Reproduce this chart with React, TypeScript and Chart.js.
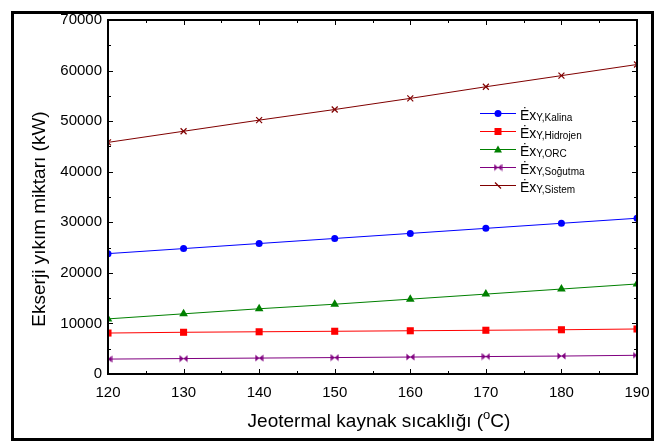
import React, { useEffect, useRef } from "react";
import { Chart, registerables } from "chart.js";

Chart.register(...registerables);

const temperatures = [120, 130, 140, 150, 160, 170, 180, 190];
const kalina = [23800, 24800, 25800, 26800, 27800, 28800, 29800, 30800];
const hidrojen = [8100, 8250, 8350, 8450, 8550, 8650, 8750, 8900];
const orc = [10900, 11900, 12900, 13800, 14800, 15800, 16800, 17800];
const sogutma = [2950, 3050, 3150, 3250, 3350, 3450, 3550, 3700];
const sistem = [45800, 48000, 50200, 52300, 54500, 56800, 59000, 61200];

const seriesNames = ["Kalina", "Hidrojen", "ORC", "Soğutma", "Sistem"];
const seriesColors = ["#0000FF", "#FF0000", "#008000", "#800080", "#800000"];

const xTitle = "Jeotermal kaynak sıcaklığı (";
const yTitle = "Ekserji yıkım miktarı (kW)";

const FONT = "'Liberation Sans', Arial, sans-serif";

function makeBowtie(color: string) {
  const c = document.createElement("canvas");
  c.width = 9;
  c.height = 8;
  const g = c.getContext("2d")!;
  g.fillStyle = color;
  g.beginPath();
  g.moveTo(0.5, 0.5);
  g.lineTo(4.5, 4);
  g.lineTo(0.5, 7.5);
  g.closePath();
  g.moveTo(8.5, 0.5);
  g.lineTo(4.5, 4);
  g.lineTo(8.5, 7.5);
  g.closePath();
  g.fill();
  return c;
}

const framePlugin = {
  id: "framePlugin",
  beforeDraw(chart: any) {
    const ctx = chart.ctx;
    ctx.save();
    ctx.fillStyle = "#fff";
    ctx.fillRect(0, 0, chart.width, chart.height);
    ctx.strokeStyle = "#000";
    ctx.lineWidth = 3;
    ctx.strokeRect(12.5, 12.5, 640, 427);
    ctx.restore();
  },
  afterDatasetsDraw(chart: any) {
    const ctx = chart.ctx;
    const a = chart.chartArea;
    const xs = chart.scales.x;
    const ys = chart.scales.y;
    ctx.save();
    ctx.strokeStyle = "#000";
    ctx.lineWidth = 1;
    // ticks inward
    ctx.beginPath();
    for (let v = 120; v <= 190; v += 5) {
      const px = Math.round(xs.getPixelForValue(v)) + 0.5;
      const len = v % 10 === 0 ? 5 : 3;
      ctx.moveTo(px, a.bottom);
      ctx.lineTo(px, a.bottom - len);
      ctx.moveTo(px, a.top);
      ctx.lineTo(px, a.top + len);
    }
    for (let v = 0; v <= 70000; v += 5000) {
      const py = Math.round(ys.getPixelForValue(v)) + 0.5;
      const len = v % 10000 === 0 ? 5 : 3;
      ctx.moveTo(a.left, py);
      ctx.lineTo(a.left + len, py);
      ctx.moveTo(a.right, py);
      ctx.lineTo(a.right - len, py);
    }
    ctx.stroke();
    ctx.lineWidth = 2;
    ctx.strokeRect(a.left, a.top, a.right - a.left, a.bottom - a.top);

    // legend
    for (let i = 0; i < seriesNames.length; i++) {
      const ly = 113.5 + i * 18;
      const col = seriesColors[i];
      ctx.strokeStyle = col;
      ctx.fillStyle = col;
      ctx.lineWidth = 1;
      ctx.beginPath();
      ctx.moveTo(480, ly);
      ctx.lineTo(516, ly);
      ctx.stroke();
      const mx = 498;
      if (i === 0) {
        ctx.beginPath();
        ctx.arc(mx, ly, 3.5, 0, Math.PI * 2);
        ctx.fill();
      } else if (i === 1) {
        ctx.fillRect(mx - 3.5, ly - 3.5, 7, 7);
      } else if (i === 2) {
        ctx.beginPath();
        ctx.moveTo(mx, ly - 4);
        ctx.lineTo(mx + 4, ly + 3);
        ctx.lineTo(mx - 4, ly + 3);
        ctx.closePath();
        ctx.fill();
      } else if (i === 3) {
        ctx.drawImage(makeBowtie(col), mx - 4.5, ly - 4);
      } else {
        ctx.lineWidth = 1.2;
        ctx.beginPath();
        ctx.moveTo(mx - 3, ly - 3);
        ctx.lineTo(mx + 3, ly + 3);
        ctx.stroke();
      }
      ctx.fillStyle = "#000";
      ctx.textBaseline = "alphabetic";
      ctx.textAlign = "left";
      ctx.font = `14px ${FONT}`;
      const base = ly + 6;
      ctx.fillText("Ėx", 520, base);
      const w = ctx.measureText("Ėx").width;
      ctx.font = `10px ${FONT}`;
      ctx.fillText("Y," + seriesNames[i], 520 + w, base + 1);
    }

    // x title
    ctx.fillStyle = "#000";
    ctx.font = `19px ${FONT}`;
    const w1 = ctx.measureText(xTitle).width;
    ctx.font = `13px ${FONT}`;
    const w2 = ctx.measureText("o").width;
    ctx.font = `19px ${FONT}`;
    const w3 = ctx.measureText("C)").width;
    const total = w1 + w2 + w3;
    let sx = 379 - total / 2;
    const by = 427;
    ctx.textAlign = "left";
    ctx.fillText(xTitle, sx, by);
    sx += w1;
    ctx.font = `13px ${FONT}`;
    ctx.fillText("o", sx, by - 8);
    sx += w2;
    ctx.font = `19px ${FONT}`;
    ctx.fillText("C)", sx, by);

    // y title
    ctx.save();
    ctx.translate(45, 219);
    ctx.rotate(-Math.PI / 2);
    ctx.textAlign = "center";
    ctx.fillText(yTitle, 0, 0);
    ctx.restore();

    ctx.restore();
  },
};

export default function App() {
  const ref = useRef<HTMLCanvasElement | null>(null);
  useEffect(() => {
    if (!ref.current) return;
    const allSeries = [kalina, hidrojen, orc, sogutma, sistem];
    const styles: any[] = ["circle", "rect", "triangle", makeBowtie("#800080"), "crossRot"];
    const radii = [3.5, 5, 5, 4, 4.2];
    const datasets = allSeries.map((s, i) => ({
      label: seriesNames[i],
      data: temperatures.map((t, j) => ({ x: t, y: s[j] })),
      borderColor: seriesColors[i],
      backgroundColor: seriesColors[i],
      pointBackgroundColor: seriesColors[i],
      pointBorderColor: seriesColors[i],
      borderWidth: 1,
      pointStyle: styles[i],
      pointRadius: radii[i],
      pointBorderWidth: i === 4 ? 1.2 : 0,
      tension: 0,
      clip: 0,
    }));
    const chart = new Chart(ref.current, {
      type: "line",
      data: { datasets },
      options: {
        animation: false,
        responsive: false,
        devicePixelRatio: 1,
        layout: { padding: { left: 0, right: 28, top: 20, bottom: 0 } },
        plugins: { legend: { display: false }, tooltip: { enabled: false } },
        scales: {
          x: {
            type: "linear",
            min: 120,
            max: 190,
            grid: { display: false, drawTicks: false },
            border: { display: false },
            ticks: {
              stepSize: 10,
              padding: 10,
              color: "#000",
              font: { family: FONT, size: 15 },
              callback: (v: any) => String(v),
            },
            afterFit: (s: any) => {
              s.height = 72;
            },
          },
          y: {
            min: 0,
            max: 70000,
            grid: { display: false, drawTicks: false },
            border: { display: false },
            ticks: {
              stepSize: 10000,
              padding: 6,
              color: "#000",
              font: { family: FONT, size: 15 },
              callback: (v: any) => String(v),
            },
            afterFit: (s: any) => {
              s.width = 108;
            },
          },
        },
      },
      plugins: [framePlugin],
    });
    return () => chart.destroy();
  }, []);
  return (
    <div style={{ position: "fixed", left: 0, top: 0, width: 665, height: 446, background: "#fff" }}>
      <canvas ref={ref} width={665} height={446} style={{ display: "block", width: 665, height: 446 }} />
    </div>
  );
}
